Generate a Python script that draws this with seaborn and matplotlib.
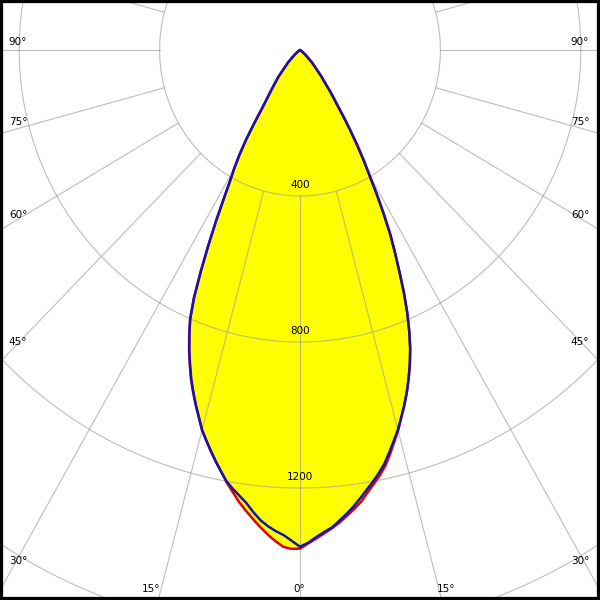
import numpy as np
import pandas as pd
import matplotlib
matplotlib.use('Agg')
import matplotlib.pyplot as plt
import seaborn as sns

# 광도 분포 (cd) - 그림에서 읽은 값
gamma = list(range(0, 41)) + [45, 50, 55, 60, 90, 120, 150, 180]

c0 = [1366, 1352, 1339, 1326, 1313, 1299, 1283, 1267, 1250, 1228,
      1208, 1188, 1166, 1138, 1108, 1080, 1047, 1017, 985, 951,
      915, 876, 831, 782, 728, 670, 617, 566, 507, 450,
      395, 352, 308, 266, 227, 190, 165, 145, 122, 106,
      95, 48, 20, 6, 0, 0, 0, 0, 0]
c90 = [1364, 1350, 1335, 1322, 1311, 1294, 1277, 1259, 1239, 1219,
       1200, 1180, 1158, 1131, 1104, 1077, 1047, 1017, 985, 951,
       915, 876, 831, 782, 728, 670, 617, 566, 507, 450,
       395, 352, 308, 266, 227, 190, 165, 145, 122, 106,
       95, 48, 20, 6, 0, 0, 0, 0, 0]
c180 = [1366, 1367, 1362, 1347, 1330, 1311, 1291, 1271, 1250, 1226,
        1203, 1177, 1153, 1128, 1103, 1078, 1046, 1016, 986, 954,
        918, 882, 843, 801, 742, 668, 596, 529, 465, 413,
        375, 335, 290, 240, 195, 168, 148, 132, 117, 105,
        95, 48, 20, 6, 0, 0, 0, 0, 0]
c270 = [1361, 1345, 1330, 1320, 1308, 1293, 1273, 1251, 1234, 1218,
        1201, 1177, 1153, 1128, 1103, 1078, 1046, 1016, 984, 952,
        916, 880, 841, 801, 742, 668, 596, 529, 465, 413,
        375, 335, 290, 240, 195, 168, 148, 132, 117, 105,
        95, 48, 20, 6, 0, 0, 0, 0, 0]

rings = [400, 800, 1200, 1600]
ring_labels = ['400', '800', '1200']
spokes = list(range(-180, 181, 15))
angle_labels = ['90°', '75°', '60°', '45°', '30°', '15°', '0°']

sns.set_style('white')
plt.rcParams['font.family'] = ['DejaVu Sans']

# 픽셀 스케일 (가로/세로 비율이 조금 다름)
sx, sy = 0.351, 0.365
cx, cy = 300, 50
xmin, xmax = -cx / sx, (600 - cx) / sx
ymax, ymin = cy / sy, -(600 - cy) / sy


def px(x, y):
    return (x - cx) / sx, (cy - y) / sy


def plane(left, right):
    g = np.radians(gamma)
    xl = -np.array(left) * np.sin(g)
    yl = -np.array(left) * np.cos(g)
    xr = np.array(right) * np.sin(g)
    yr = -np.array(right) * np.cos(g)
    return pd.DataFrame({'x': np.r_[xl[::-1], xr[1:]], 'y': np.r_[yl[::-1], yr[1:]]})


red = plane(c180, c0)
blue = plane(c270, c90)

fig = plt.figure(figsize=(6, 6), dpi=100)
ax = fig.add_axes([0, 0, 1, 1])

ax.fill(red['x'], red['y'], color='#ffff00', lw=0, zorder=1)
ax.fill(blue['x'], blue['y'], color='#ffff00', lw=0, zorder=1)

t = np.radians(np.linspace(0, 360, 721))
for r in rings:
    ax.plot(r * np.sin(t), -r * np.cos(t), color='#9a9a9a', lw=0.8, alpha=0.65, zorder=2)
for a in spokes:
    ar = np.radians(a)
    ax.plot([400 * np.sin(ar), 2200 * np.sin(ar)], [-400 * np.cos(ar), -2200 * np.cos(ar)],
            color='#9a9a9a', lw=0.8, alpha=0.65, zorder=2)

sns.lineplot(data=red, x='x', y='y', sort=False, estimator=None, color='#e00000',
             linewidth=1.8, ax=ax, zorder=3)
sns.lineplot(data=blue, x='x', y='y', sort=False, estimator=None, color='#1414b4',
             linewidth=1.8, ax=ax, zorder=4)

for r, lab in zip(rings, ring_labels):
    ax.text(0, -r + 6 / sy, lab, ha='center', va='bottom', fontsize=7.5, color='black', zorder=5)

side_y = [42, 122, 215, 342, 561]
for lab, yy in zip(angle_labels[:5], side_y):
    ax.text(*px(18, yy), lab, ha='center', va='center', fontsize=7.5, color='black', zorder=5)
    ax.text(*px(580, yy), lab, ha='center', va='center', fontsize=7.5, color='black', zorder=5)
for lab, xx in zip(angle_labels[5:], [151, 299]):
    ax.text(*px(xx, 589), lab, ha='center', va='center', fontsize=7.5, color='black', zorder=5)
ax.text(*px(446, 589), angle_labels[5], ha='center', va='center', fontsize=7.5, color='black', zorder=5)

ax.set_xlim(xmin, xmax)
ax.set_ylim(ymin, ymax)
ax.set_xticks([])
ax.set_yticks([])
ax.set_xlabel('')
ax.set_ylabel('')
for s in ax.spines.values():
    s.set_color('black')
    s.set_linewidth(4.5)

fig.savefig('out.png', dpi=100)
